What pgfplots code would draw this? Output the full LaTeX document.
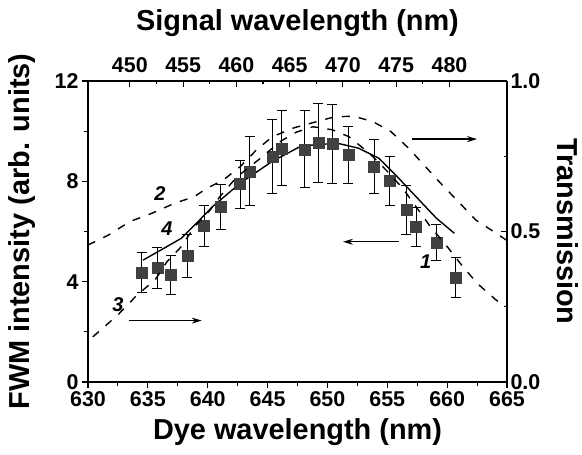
\documentclass[border=0pt]{standalone}
\usepackage{fontspec}
\setmainfont{Liberation Sans}
\usepackage{pgfplots}
\pgfplotsset{compat=1.18}
\usetikzlibrary{calc,arrows.meta}

\pgfplotsset{
  base/.style={
    scale only axis, width=419bp, height=301bp,
    axis line style={line width=1.4bp},
    major tick length=6bp, minor tick length=3.5bp,
    every tick/.style={line width=1.1bp, black},
    tick label style={font=\fontsize{21.5}{24}\selectfont\bfseries},
    label style={font=\fontsize{29}{32}\selectfont\bfseries},
    /pgf/number format/assume math mode=true,
  },
  dashcurve/.style={black, line width=1.4bp, dash pattern=on 8bp off 9bp},
}

\begin{document}
\begin{tikzpicture}
% FWM intensity, left / bottom
\begin{axis}[base, name=ax,
  axis x line*=bottom, axis y line*=left,
  xmin=630, xmax=665, ymin=0, ymax=12,
  xtick={630,635,...,665}, minor x tick num=1,
  ytick={0,4,8,12}, minor y tick num=1,
  tick align=outside,
  xlabel={Dye wavelength (nm)},
  ylabel={FWM intensity (arb. units)},
  xlabel style={at={(axis description cs:0.5,0)}, anchor=center, yshift=-50bp},
  ylabel style={at={(axis description cs:-0.1575,0.5)}, anchor=center},
]
\addplot[black, line width=1.4bp] coordinates {
  (634.6,4.86) (636.6,5.40) (637.8,5.73) (639.3,6.45) (640.4,6.99)
  (642.7,7.92) (645.4,8.80) (647.7,9.38) (649.3,9.48) (651.0,9.50)
  (652.6,9.32) (654.3,8.92) (655.7,8.25) (657.4,7.39) (659.1,6.53)
  (660.6,5.93)};
\addplot[black, only marks, mark=square*, mark size=5.5bp,
  mark options={fill=black!75, draw=black!75},
  error bars/.cd, y dir=both, y explicit,
  error bar style={line width=1bp, black},
  error mark options={rotate=90, mark size=5bp, line width=1bp, black}]
  table[x=x, y=y, y error=e] {
x      y     e
634.5  4.36  0.80
635.8  4.55  0.82
636.9  4.27  0.78
638.3  5.04  0.86
639.7  6.23  0.82
641.1  6.97  0.90
642.7  7.89  0.96
643.5  8.40  1.38
645.4  8.98  1.48
646.2  9.32  1.50
648.1  9.28  1.54
649.25 9.54  1.58
650.4  9.49  1.59
651.75 9.05  1.13
653.9  8.58  1.07
655.2  8.01  0.98
656.6  6.86  0.97
657.4  6.19  0.77
659.1  5.55  0.72
660.7  4.17  0.79
};
\draw[-{Stealth[length=10bp,width=6bp]}, line width=1.3bp]
  (axis cs:656,5.59) -- (axis cs:651.3,5.59);
\node[font=\fontsize{20}{22}\selectfont\bfseries\itshape] at (axis cs:636,7.52) {2};
\node[font=\fontsize{20}{22}\selectfont\bfseries\itshape] at (axis cs:636.6,6.13) {4};
\node[font=\fontsize{20}{22}\selectfont\bfseries\itshape] at (axis cs:632.5,3.07) {3};
\node[font=\fontsize{20}{22}\selectfont\bfseries\itshape] at (axis cs:658.2,4.80) {1};
\end{axis}

% transmission, right
\begin{axis}[base,
  axis y line*=right, hide x axis,
  xmin=630, xmax=665, ymin=0, ymax=1,
  ytick={0,0.5,1}, minor y tick num=1,
  tick align=inside,
  yticklabel style={/pgf/number format/.cd, fixed, fixed zerofill, precision=1},
  ylabel={Transmission},
  ylabel style={at={(axis description cs:1.1456,0.5)}, anchor=center, rotate=180},
]
\addplot[dashcurve] coordinates {
  (630.0,0.455) (631.7,0.488) (633.5,0.533) (635.3,0.560) (637.25,0.594)
  (638.9,0.616) (639.9,0.643) (641.3,0.671) (642.7,0.715) (644.1,0.772)
  (645.4,0.815) (647.25,0.845) (649.1,0.865) (650.6,0.881) (652.2,0.883)
  (653.8,0.865) (655.3,0.832) (656.8,0.776) (658.2,0.715) (659.6,0.654)
  (660.8,0.605) (662.4,0.538) (664.1,0.494) (665.0,0.470)};
\addplot[dashcurve] coordinates {
  (630.4,0.150) (632.5,0.223) (634.1,0.289) (635.6,0.339) (636.6,0.400)
  (637.8,0.450) (638.9,0.516) (640.2,0.571) (641.0,0.615) (642.4,0.680)
  (644.3,0.740) (646.1,0.800) (647.4,0.830) (648.8,0.848) (650.4,0.838)
  (651.8,0.815) (653.5,0.760) (655.0,0.700) (656.3,0.643) (658.6,0.516)
  (659.9,0.455) (661.1,0.394) (662.5,0.328) (664.1,0.272) (665.0,0.250)};
\draw[-{Stealth[length=10bp,width=6bp]}, line width=1.3bp]
  (axis cs:633.4,0.204) -- (axis cs:639.5,0.204);
\draw[-{Stealth[length=10bp,width=6bp]}, line width=1.3bp]
  (axis cs:657.1,0.807) -- (axis cs:662.5,0.807);
\end{axis}

% signal wavelength, top
\begin{axis}[base,
  axis x line*=top, hide y axis,
  xmin=446.07, xmax=485.4, ymin=0, ymax=1,
  xtick={450,455,...,480}, minor x tick num=1,
  tick align=inside,
  xticklabel style={yshift=5bp},
  xlabel={Signal wavelength (nm)},
  xlabel style={at={(axis description cs:0.5,1)}, anchor=center, yshift=58bp},
]
\addplot[draw=none] coordinates {(450,0.5)};
\end{axis}

\pgfresetboundingbox
\path ($(ax.south west)+(-88bp,-73bp)$) rectangle ($(ax.north east)+(75bp,81bp)$);
\end{tikzpicture}
\end{document}
